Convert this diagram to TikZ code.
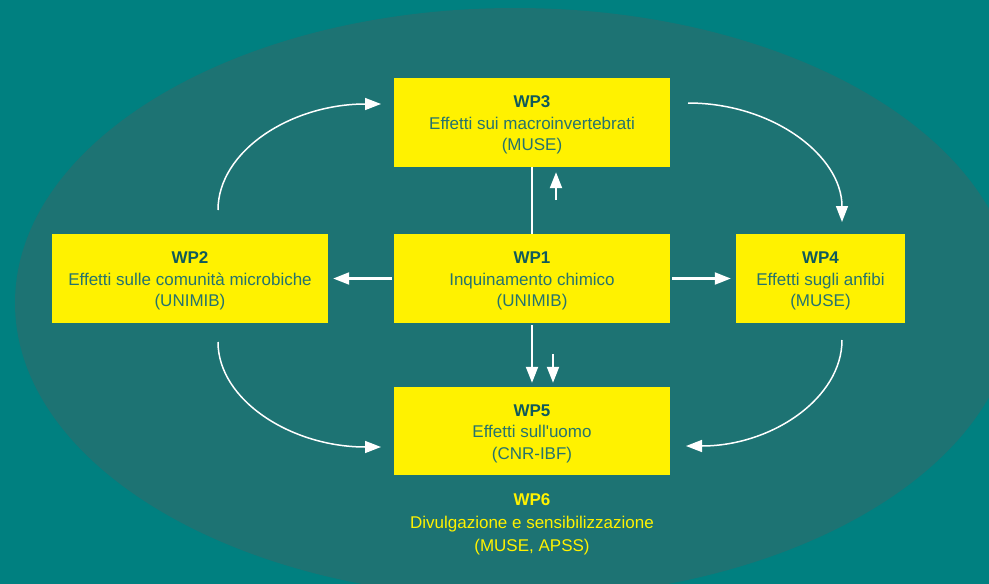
\documentclass[tikz,border=0pt]{standalone}
\usepackage{fontspec}
\setmainfont{Liberation Sans}
\usetikzlibrary{arrows.meta,calc}
\definecolor{bgteal}{RGB}{0,128,128}
\definecolor{elteal}{RGB}{29,115,115}
\definecolor{wpyellow}{RGB}{255,242,0}
\definecolor{txteal}{RGB}{38,115,110}
\definecolor{lbteal}{RGB}{16,90,92}
\newcommand{\firststrut}{\rule{0pt}{17pt}}
\begin{document}
\begin{tikzpicture}[x=1pt,y=-1pt,
  wpbox/.style={fill=wpyellow, inner sep=0pt, align=center, text=txteal,
    font=\fontsize{17}{21.6}\selectfont, minimum height=89pt},
  curvearrow/.style={draw=white, line width=1.5pt, -{Triangle[length=16pt,width=12pt]}},
  straightarrow/.style={draw=white, line width=2.2pt, -{Triangle[length=16pt,width=12pt]}},
  plainline/.style={draw=white, line width=2.2pt}]
\fill[bgteal] (0,0) rectangle (989,584);
\useasboundingbox (0,0) rectangle (989,584);
\begin{scope}
  \clip (0,0) rectangle (989,584);
  \fill[elteal] (515,303) ellipse [x radius=500, y radius=295];
\end{scope}
% boxes
\node[wpbox, minimum width=276pt] (wp1) at (532,278.5) {\firststrut\textbf{\color{lbteal}WP1}\\Inquinamento chimico\\(UNIMIB)};
\node[wpbox, minimum width=276pt] (wp2) at (190,278.5) {\firststrut\textbf{\color{lbteal}WP2}\\Effetti sulle comunità microbiche\\(UNIMIB)};
\node[wpbox, minimum width=276pt] (wp3) at (532,122.5) {\firststrut\textbf{\color{lbteal}WP3}\\Effetti sui macroinvertebrati\\(MUSE)};
\node[wpbox, minimum width=169pt] (wp4) at (820.5,278.5) {\firststrut\textbf{\color{lbteal}WP4}\\Effetti sugli anfibi\\(MUSE)};
\node[wpbox, minimum width=276pt, minimum height=88pt] (wp5) at (532,431) {\firststrut\textbf{\color{lbteal}WP5}\\Effetti sull\textquotesingle uomo\\(CNR-IBF)};
\node[align=center, text=wpyellow, font=\fontsize{17}{23}\selectfont] (wp6) at (532,524) {\textbf{WP6}\\Divulgazione e sensibilizzazione\\(MUSE, APSS)};
% straight connectors
\draw[plainline] (wp1.north) -- (wp3.south);
\coordinate (upS) at ($(wp3.south)+(24,33)$);
\coordinate (upE) at ($(wp3.south)+(24,5)$);
\draw[straightarrow] (upS) -- (upE);
\coordinate (dnS) at ($(wp1.south)+(0,2)$);
\coordinate (dnE) at ($(wp5.north)+(0,-4)$);
\draw[straightarrow] (dnS) -- (dnE);
\coordinate (dn2S) at ($(wp5.north)+(21,-33)$);
\coordinate (dn2E) at ($(wp5.north)+(21,-4)$);
\draw[straightarrow] (dn2S) -- (dn2E);
\coordinate (lS) at ($(wp1.west)+(-2,0)$);
\coordinate (lE) at ($(wp2.east)+(5,0)$);
\draw[straightarrow] (lS) -- (lE);
\coordinate (rS) at ($(wp1.east)+(2,0)$);
\coordinate (rE) at ($(wp4.west)+(-5,0)$);
\draw[straightarrow] (rS) -- (rE);
% curved connectors
\coordinate (c1s) at (218,210);
\coordinate (c1e) at (381,104);
\draw[curvearrow] (c1s) .. controls (218,151) and (291,104) .. (c1e);
\coordinate (c2s) at (688,103);
\coordinate (c2e) at (842,222);
\draw[curvearrow] (c2s) .. controls (773,103) and (842,156) .. (c2e);
\coordinate (c3s) at (842,340);
\coordinate (c3e) at (686,446);
\draw[curvearrow] (c3s) .. controls (842,398) and (772,446) .. (c3e);
\coordinate (c4s) at (218,342);
\coordinate (c4e) at (381,447);
\draw[curvearrow] (c4s) .. controls (218,400) and (291,447) .. (c4e);
\end{tikzpicture}
\end{document}
